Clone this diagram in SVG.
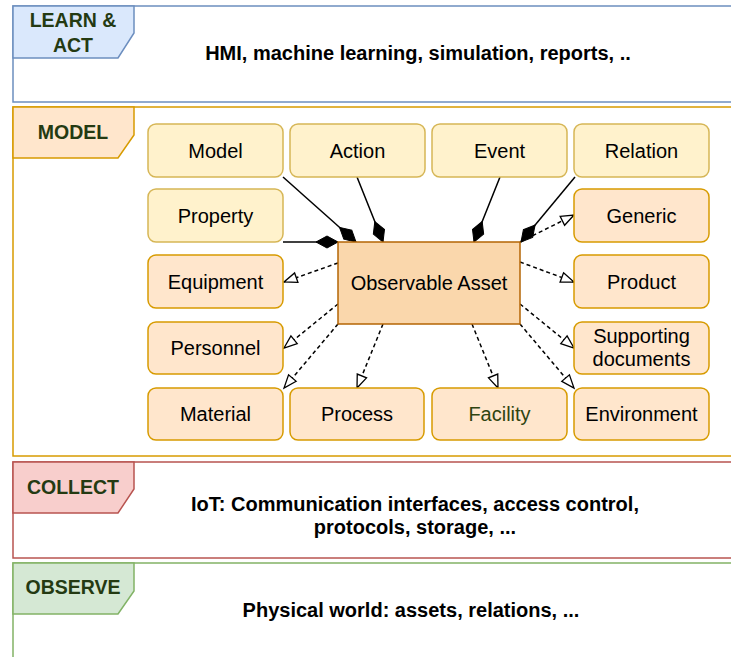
<svg xmlns="http://www.w3.org/2000/svg" width="731" height="657" viewBox="0 0 731 657">
<style>
.frame{fill:#ffffff;stroke-width:1.5}
.lbl{font-family:"Liberation Sans",Arial,sans-serif;font-weight:bold;font-size:19.5px;fill:#243a12;text-anchor:middle}
.ftxt{font-family:"Liberation Sans",Arial,sans-serif;font-weight:bold;font-size:20px;fill:#000;text-anchor:middle}
.ntxt{font-family:"Liberation Sans",Arial,sans-serif;font-size:20px;fill:#000;text-anchor:middle}
.yel{fill:#fff2cc;stroke:#d6b656;stroke-width:1.5}
.org{fill:#ffe6cc;stroke:#d79b00;stroke-width:1.5}
.comp{fill:none;stroke:#000;stroke-width:1.5;marker-end:url(#diamond)}
.gen{fill:none;stroke:#000;stroke-width:1.5;stroke-dasharray:4 3;marker-end:url(#tri)}
</style>
<defs>
<marker id="diamond" markerUnits="userSpaceOnUse" markerWidth="24" markerHeight="14" refX="22" refY="6" orient="auto" overflow="visible">
<path d="M0,6 L11,0 L22,6 L11,12 Z" fill="#000" stroke="#000" stroke-width="1"/>
</marker>
<marker id="tri" markerUnits="userSpaceOnUse" markerWidth="14" markerHeight="12" refX="13" refY="5" orient="auto" overflow="visible">
<path d="M0,0 L13,5 L0,10 Z" fill="#fff" stroke="#000" stroke-width="1.3"/>
</marker>
</defs>
<rect width="731" height="657" fill="#ffffff"/>

<g id="frame-learn">
<rect class="frame" x="13" y="6" width="740" height="96" stroke="#6c8ebf"/>
<polygon points="13,6 134,6 134,33 118,58 13,58" fill="#dae8fc" stroke="#6c8ebf" stroke-width="1.5"/>
<text class="lbl" x="73" y="27">LEARN &amp;</text>
<text class="lbl" x="73" y="52">ACT</text>
<text class="ftxt" x="418" y="60">HMI, machine learning, simulation, reports, ..</text>
</g>

<g id="frame-model">
<rect class="frame" x="13" y="107" width="740" height="349" stroke="#d79b00"/>
<polygon points="13,107 134,107 134,135 118,158 13,158" fill="#ffe6cc" stroke="#d79b00" stroke-width="1.5"/>
<text class="lbl" x="73" y="139">MODEL</text>
</g>

<g id="frame-collect">
<rect class="frame" x="13" y="462" width="740" height="96" stroke="#b85450"/>
<polygon points="13,462 134,462 134,489 118,513 13,513" fill="#f8cecc" stroke="#b85450" stroke-width="1.5"/>
<text class="lbl" x="73" y="494">COLLECT</text>
<text class="ftxt" x="415" y="511">IoT: Communication interfaces, access control,</text>
<text class="ftxt" x="415" y="534">protocols, storage, ...</text>
</g>

<g id="frame-observe">
<rect class="frame" x="13" y="563" width="740" height="110" stroke="#82b366"/>
<polygon points="13,563 134,563 134,591 118,614 13,614" fill="#d5e8d4" stroke="#82b366" stroke-width="1.5"/>
<text class="lbl" x="73" y="594">OBSERVE</text>
<text class="ftxt" x="411" y="617">Physical world: assets, relations, ...</text>
</g>

<g id="connectors">
<path class="comp" d="M283,177 L356,242"/>
<path class="comp" d="M357,177 L383,242"/>
<path class="comp" d="M500,177 L474,242"/>
<path class="comp" d="M575,177 L521,242"/>
<path class="comp" d="M283,242 L338,242"/>
<path class="gen" d="M520,242 L574,215"/>
<path class="gen" d="M520,262 L574,282"/>
<path class="gen" d="M520,304 L574,348"/>
<path class="gen" d="M520,324 L574,388"/>
<path class="gen" d="M472,324 L498,388"/>
<path class="gen" d="M383,324 L357,388"/>
<path class="gen" d="M338,324 L284,388"/>
<path class="gen" d="M338,304 L284,348"/>
<path class="gen" d="M338,263 L284,282"/>
</g>

<g id="node-model"><rect class="yel" x="148" y="124" width="135" height="53" rx="8"/><text class="ntxt" x="215.5" y="157.5">Model</text></g>
<g id="node-action"><rect class="yel" x="290" y="124" width="135" height="53" rx="8"/><text class="ntxt" x="357.5" y="157.5">Action</text></g>
<g id="node-event"><rect class="yel" x="432" y="124" width="135" height="53" rx="8"/><text class="ntxt" x="499.5" y="157.5">Event</text></g>
<g id="node-relation"><rect class="yel" x="574" y="124" width="135" height="53" rx="8"/><text class="ntxt" x="641.5" y="157.5">Relation</text></g>
<g id="node-property"><rect class="yel" x="148" y="189" width="135" height="53" rx="8"/><text class="ntxt" x="215.5" y="222.5">Property</text></g>
<g id="node-generic"><rect class="org" x="574" y="189" width="135" height="53" rx="8"/><text class="ntxt" x="641.5" y="222.5">Generic</text></g>
<g id="node-equipment"><rect class="org" x="148" y="255" width="135" height="53" rx="8"/><text class="ntxt" x="215.5" y="288.5">Equipment</text></g>
<g id="node-product"><rect class="org" x="574" y="255" width="135" height="53" rx="8"/><text class="ntxt" x="641.5" y="288.5">Product</text></g>
<g id="node-personnel"><rect class="org" x="148" y="322" width="135" height="52" rx="8"/><text class="ntxt" x="215.5" y="355">Personnel</text></g>
<g id="node-supporting"><rect class="org" x="574" y="322" width="135" height="52" rx="8"/><text class="ntxt" x="641.5" y="343">Supporting</text><text class="ntxt" x="641.5" y="366">documents</text></g>
<g id="node-material"><rect class="org" x="148" y="388" width="135" height="52" rx="8"/><text class="ntxt" x="215.5" y="421">Material</text></g>
<g id="node-process"><rect class="org" x="290" y="388" width="134" height="52" rx="8"/><text class="ntxt" x="357" y="421">Process</text></g>
<g id="node-facility"><rect class="org" x="432" y="388" width="135" height="52" rx="8"/><text class="ntxt" x="499.5" y="421" style="fill:#2e4410">Facility</text></g>
<g id="node-environment"><rect class="org" x="574" y="388" width="135" height="52" rx="8"/><text class="ntxt" x="641.5" y="421">Environment</text></g>
<g id="node-asset"><rect x="338" y="242" width="182" height="82" fill="#fad7ac" stroke="#b46504" stroke-width="1.5"/><text class="ntxt" x="429" y="290">Observable Asset</text></g>
</svg>
